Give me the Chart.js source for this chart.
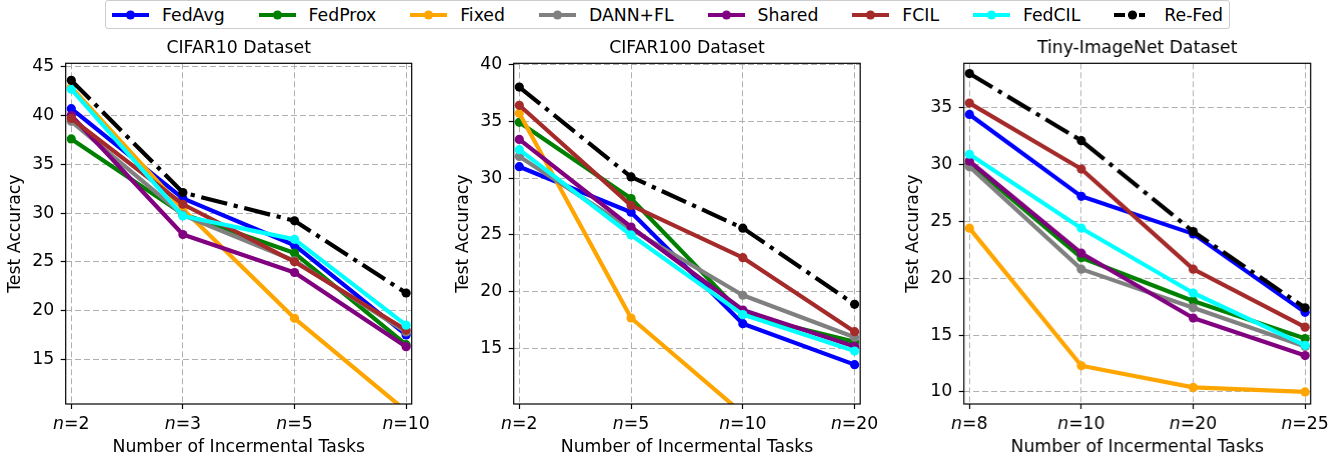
<!DOCTYPE html>
<html>
<head>
<meta charset="utf-8">
<title>Incremental task accuracy</title>
<script src="https://cdn.jsdelivr.net/npm/chart.js@4.4.1/dist/chart.umd.min.js"></script>
<style>
  html, body { margin: 0; padding: 0; background: #fff; }
  body { width: 1340px; height: 461px; position: relative; overflow: hidden; font-family: "DejaVu Sans", sans-serif; }
  .panel { position: absolute; top: 30px; height: 431px; }
  #legend {
    position: absolute; left: 105px; top: 0; width: 1125px; height: 29px;
    box-sizing: border-box; border: 1px solid #cccccc; border-radius: 3px;
    display: flex; align-items: center; justify-content: space-between;
    padding: 0 6px; font-size: 17.3px; color: #000; background: #fff;
  }
  .item { display: flex; align-items: center; white-space: nowrap; }
  .item svg { margin-right: 13px; }
</style>
</head>
<body>
<div id="legend"></div>
<div class="panel" id="p1"><canvas id="c1"></canvas></div>
<div class="panel" id="p2"><canvas id="c2"></canvas></div>
<div class="panel" id="p3"><canvas id="c3"></canvas></div>
<script>
const methods = ['FedAvg', 'FedProx', 'Fixed', 'DANN+FL', 'Shared', 'FCIL', 'FedCIL', 'Re-Fed'];
const colors = ['#0000ff', '#008000', '#ffa500', '#808080', '#800080', '#a52a2a', '#00ffff', '#000000'];

// rows follow the order of `methods`
const cifar10Tasks = ['n=2', 'n=3', 'n=5', 'n=10'];
const cifar10Ticks = [15, 20, 25, 30, 35, 40, 45];
const cifar10Acc = [
  [40.7, 31.5, 26.7, 17.5],
  [37.6, 29.9, 25.9, 16.5],
  [42.9, 30.4, 19.2, 9.7],
  [39.4, 29.8, 25.1, 17.8],
  [40.0, 27.8, 23.9, 16.3],
  [39.7, 30.9, 25.0, 18.0],
  [42.7, 29.7, 27.3, 18.5],
  [43.6, 32.1, 29.2, 21.8]
];

const cifar100Tasks = ['n=2', 'n=5', 'n=10', 'n=20'];
const cifar100Ticks = [15, 20, 25, 30, 35, 40];
const cifar100Acc = [
  [31.0, 27.0, 17.2, 13.6],
  [34.9, 28.2, 18.0, 15.6],
  [35.7, 17.7, 9.3, 7.0],
  [31.9, 25.5, 19.7, 16.0],
  [33.4, 25.7, 18.4, 15.2],
  [36.4, 27.6, 23.0, 16.5],
  [32.5, 25.0, 18.0, 14.8],
  [38.0, 30.1, 25.6, 18.9]
];

const tinyTasks = ['n=8', 'n=10', 'n=20', 'n=25'];
const tinyTicks = [10, 15, 20, 25, 30, 35];
const tinyAcc = [
  [34.4, 27.2, 23.9, 17.0],
  [30.1, 21.8, 18.0, 14.7],
  [24.4, 12.3, 10.4, 10.0],
  [29.8, 20.8, 17.4, 14.0],
  [30.3, 22.2, 16.5, 13.2],
  [35.4, 29.6, 20.8, 15.7],
  [30.9, 24.4, 18.7, 14.1],
  [38.0, 32.1, 24.1, 17.4]
];

const FONT = '"DejaVu Sans", sans-serif';
const FS = 17.3;
const dashDot = [26.7, 6.7, 4.2, 6.7];
const gridDash = [6, 3];
const Y_AXIS_W = 64.7;

// legend
const legend = document.getElementById('legend');
methods.forEach((name, i) => {
  const item = document.createElement('div');
  item.className = 'item';
  const dash = name === 'Re-Fed' ? ' stroke-dasharray="11 14 6 10"' : '';
  item.innerHTML =
    `<svg width="37" height="12"><line x1="0" y1="6" x2="37" y2="6" stroke="${colors[i]}" stroke-width="4"${dash}/>` +
    `<circle cx="18.5" cy="6" r="4.6" fill="${colors[i]}"/></svg><span>${name}</span>`;
  legend.appendChild(item);
});

function drawTaskLabel(ctx, text, cx, y) {
  const head = text.charAt(0), tail = text.slice(1);
  ctx.font = `italic ${FS}px ${FONT}`;
  const w1 = ctx.measureText(head).width;
  ctx.font = `${FS}px ${FONT}`;
  const w2 = ctx.measureText(tail).width;
  const x0 = cx - (w1 + w2) / 2;
  ctx.font = `italic ${FS}px ${FONT}`;
  ctx.fillText(head, x0, y);
  ctx.font = `${FS}px ${FONT}`;
  ctx.fillText(tail, x0 + w1, y);
}

const panelDecor = {
  id: 'panelDecor',
  afterDraw(chart, args, opts) {
    const {ctx, chartArea: a, scales: {x}} = chart;
    ctx.save();
    ctx.strokeStyle = '#000';
    ctx.lineWidth = 1.2;
    ctx.setLineDash([]);
    ctx.strokeRect(a.left, a.top, a.right - a.left, a.bottom - a.top);
    ctx.fillStyle = '#000';
    ctx.textBaseline = 'alphabetic';
    ctx.textAlign = 'center';
    ctx.font = `${FS}px ${FONT}`;
    ctx.fillText(opts.title, (a.left + a.right) / 2, a.top - 10);
    ctx.textAlign = 'left';
    opts.tasks.forEach((t, i) => drawTaskLabel(ctx, t, x.getPixelForValue(i), a.bottom + 25.3));
    ctx.restore();
  }
};

function gridOpts() {
  return { color: '#b0b0b0', lineWidth: 1, tickLength: 5, tickColor: '#000', tickWidth: 1.2, tickBorderDash: [], borderDash: gridDash };
}

function makePanel(canvasId, boxId, title, tasks, yTicks, yMin, yMax, rows, axisLeft, axisRight) {
  const box = document.getElementById(boxId);
  const left = axisLeft - Y_AXIS_W;
  box.style.left = left + 'px';
  box.style.width = (axisRight + 30 - left) + 'px';

  const datasets = methods.map((name, i) => ({
    label: name,
    data: rows[i].map((v, k) => ({ x: k, y: v })),
    borderColor: colors[i],
    backgroundColor: colors[i],
    borderWidth: 4.2,
    borderDash: name === 'Re-Fed' ? dashDot : [],
    borderCapStyle: name === 'Re-Fed' ? 'butt' : 'round',
    borderJoinStyle: 'round',
    pointRadius: 4.6,
    pointHoverRadius: 4.6,
    pointBorderWidth: 0,
    pointBackgroundColor: colors[i],
    tension: 0,
    clip: 0,
    order: methods.length - i
  }));

  return new Chart(document.getElementById(canvasId), {
    type: 'line',
    data: { datasets },
    plugins: [panelDecor],
    options: {
      responsive: true,
      maintainAspectRatio: false,
      animation: false,
      events: [],
      layout: { padding: { left: 0, right: 30, top: 33.3, bottom: 0 } },
      plugins: {
        legend: { display: false },
        tooltip: { enabled: false },
        panelDecor: { title, tasks }
      },
      scales: {
        x: {
          type: 'linear',
          min: -0.05,
          max: 3.05,
          afterBuildTicks: s => { s.ticks = tasks.map((t, k) => ({ value: k })); },
          afterFit: s => { s.height = 57; },
          ticks: { display: false },
          grid: gridOpts(),
          border: { display: false, dash: gridDash },
          title: {
            display: true,
            text: 'Number of Incermental Tasks',
            color: '#000',
            font: { family: FONT, size: FS },
            padding: { top: 0, bottom: 3.2 }
          }
        },
        y: {
          min: yMin,
          max: yMax,
          afterBuildTicks: s => { s.ticks = yTicks.map(v => ({ value: v })); },
          afterFit: s => { s.width = Y_AXIS_W; },
          ticks: { color: '#000', font: { family: FONT, size: FS }, padding: 6.5 },
          grid: gridOpts(),
          border: { display: false, dash: gridDash },
          title: {
            display: true,
            text: 'Test Accuracy',
            color: '#000',
            font: { family: FONT, size: FS },
            padding: { top: 4, bottom: 4 }
          }
        }
      }
    }
  });
}

makePanel('c1', 'p1', 'CIFAR10 Dataset', cifar10Tasks, cifar10Ticks, 10.42, 45.35, cifar10Acc, 65.5, 411.5);
makePanel('c2', 'p2', 'CIFAR100 Dataset', cifar100Tasks, cifar100Ticks, 10.14, 40.09, cifar100Acc, 514, 860.5);
makePanel('c3', 'p3', 'Tiny-ImageNet Dataset', tinyTasks, tinyTicks, 8.94, 38.9, tinyAcc, 964, 1310);
</script>
</body>
</html>
